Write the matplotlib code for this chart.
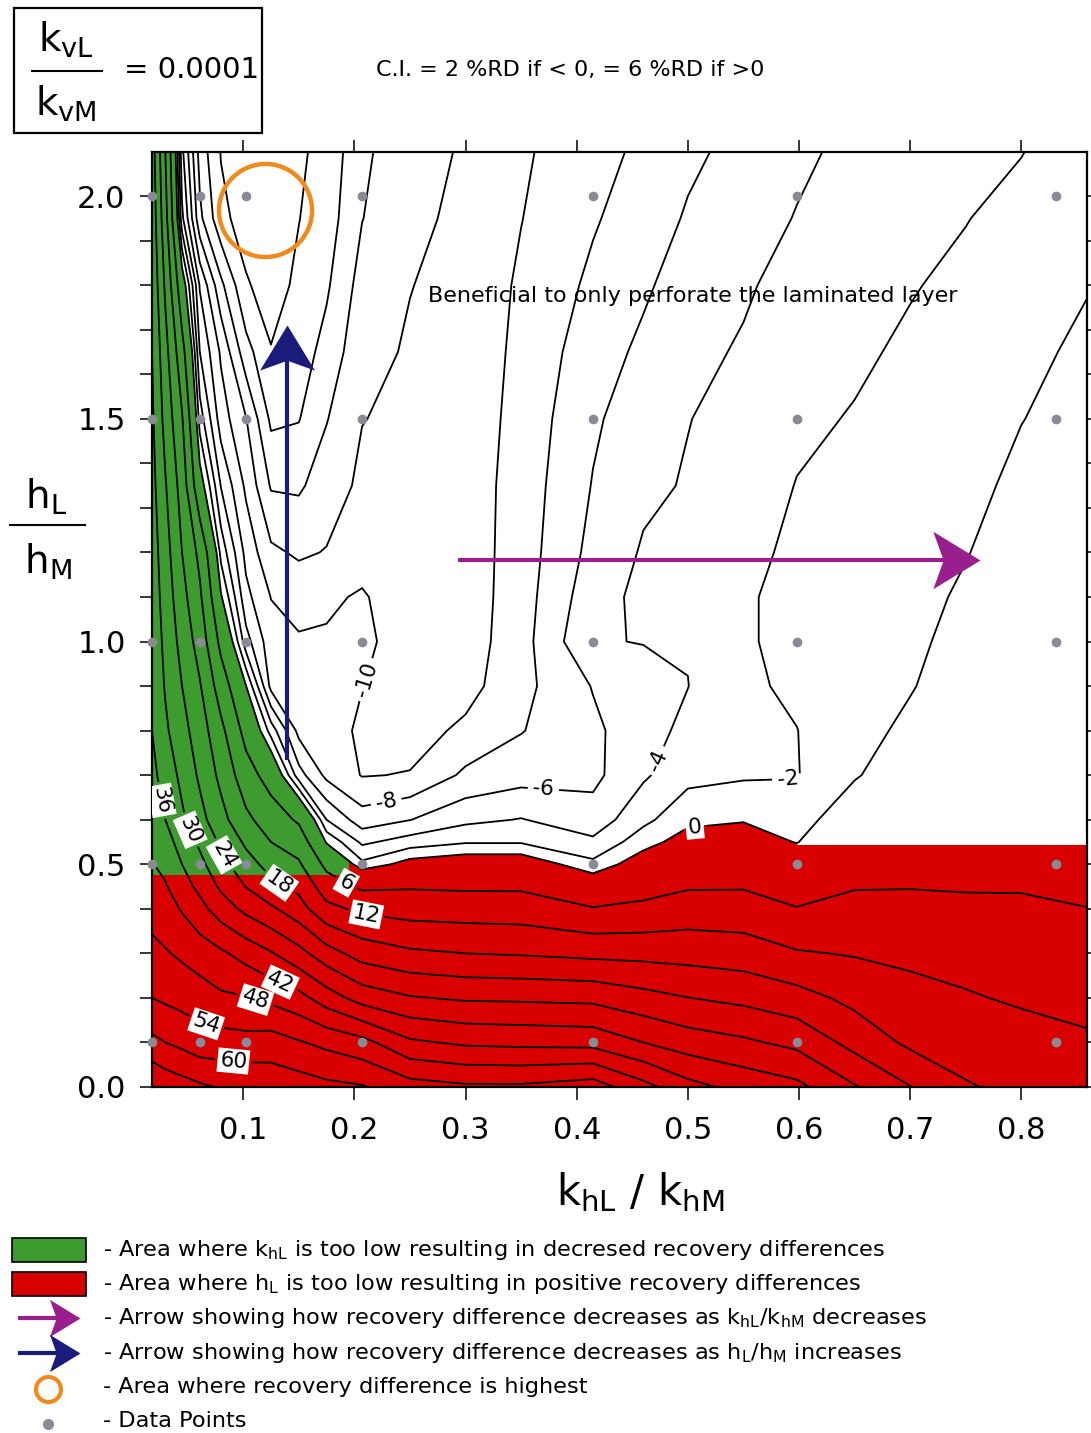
import numpy as np
import matplotlib
matplotlib.use('Agg')
import matplotlib.pyplot as plt
from matplotlib.path import Path
from matplotlib.patches import Rectangle, PathPatch
from matplotlib.lines import Line2D

plt.rcParams['font.family'] = ['DejaVu Sans']

# recovery difference (%RD), one list per khL/khM column,
# values from hL/hM = 0 (bottom) to 2.1 (top)
khl_ratio = [0.018, 0.03, 0.045, 0.061, 0.08, 0.1025, 0.125, 0.15, 0.175, 0.207, 0.25,
             0.3, 0.35, 0.4146, 0.46, 0.5, 0.55, 0.598, 0.65, 0.7, 0.75, 0.8, 0.859]
hl_ratio = [0, 0.1, 0.2, 0.3, 0.4, 0.45, 0.5, 0.55, 0.6, 0.7, 0.8, 0.9, 1.0, 1.1, 1.2,
            1.35, 1.5, 1.65, 1.8, 1.95, 2.1]
rd_columns = [
    [72, 61.5, 54, 49.5, 46, 44.5, 42.3, 40.8, 39.5, 37.6, 36, 35, 34.2, 33.5, 33, 32, 31, 30, 29, 28, 27],
    [70, 60, 53, 48.5, 44.5, 42.5, 40.5, 38.5, 36, 33.5, 31, 29.5, 28.5, 27.5, 26.5, 24.5, 22, 20, 17, 14, 12],
    [68.5, 58.5, 52, 47, 41.5, 38.5, 36, 33.5, 31, 28.5, 26, 24, 22, 20, 18, 15.5, 12.5, 8, 2, -5.5, -7.5],
    [67, 56.5, 51, 45, 38, 34.5, 31.5, 29, 26, 23, 21, 18.5, 15.5, 13, 10.5, 1.5, -3, -6, -8.2, -13.5, -14.8],
    [65.5, 56.5, 49, 43, 33, 29, 26, 23, 20, 16.5, 13.5, 9, 4.5, 0.3, -2.7, -6.1, -9, -10.3, -13.5, -17.5, -18.1],
    [65, 56, 48.3, 39.8, 28.5, 23.8, 20.2, 17, 13.3, 8.5, 4, 0.1, -5.2, -7.4, -8.6, -10.4, -11.9, -15.2, -17.8, -18.8, -19.1],
    [64, 56.7, 46.5, 36.5, 25, 19.5, 16, 12, 9, 3.5, -2.9, -8.6, -9.2, -10.05, -11.6, -14.2, -16.4, -17.9, -18.8, -19.2, -19.3],
    [63, 54.5, 44, 32, 20.5, 16.5, 12.8, 9.2, 5.2, -5.2, -8.6, -9.2, -9.8, -10.7, -12.3, -14.3, -16.1, -17, -17.6, -18.05, -18.3],
    [61.5, 52.5, 39, 26.5, 13.5, 9.0, 4.5, -0.3, -4, -8.5, -9.0, -9.4, -9.8, -10.3, -11.9, -13.0, -14.1, -15.3, -16.3, -17.0, -17.4],
    [60.5, 50, 33.5, 21.5, 10.8, 5.0, -1.5, -4.4, -7.1, -10.1, -10.4, -9.95, -9.5, -9.8, -10.8, -11.6, -12.05, -12.6, -13.2, -14.05, -14.4],
    [56.5, 43, 30.5, 19, 9.5, 5.5, 1, -3.1, -6.05, -9.9, -10.8, -11.0, -11.1, -11.2, -11.3, -11.4, -11.6, -11.8, -12.05, -12.4, -12.7],
    [55, 41, 29.2, 18, 9.2, 5.2, 1.8, -2.2, -4.5, -7.6, -9.6, -10.7, -11.0, -11.1, -11.1, -11.1, -11.2, -11.3, -11.4, -11.6, -11.8],
    [55, 40.5, 29, 17.5, 9, 5.2, 1.8, -2.2, -3.9, -6.8, -8.1, -8.6, -8.8, -8.9, -9.0, -9.1, -9.3, -9.5, -9.7, -10.05, -10.3],
    [57, 40, 28.5, 16.5, 6.3, 2.2, -1.5, -3.6, -5.2, -6.5, -6.4, -5.9, -4.1, -4.8, -5.4, -5.9, -6.3, -6.9, -7.6, -8.2, -8.7],
    [50, 36, 26, 16.2, 7.2, 4, 1.5, -0.9, -2.5, -4.3, -4.8, -4.6, -3.95, -3.5, -3.8, -4.4, -4.9, -5.6, -6.3, -7.0, -7.6],
    [44, 33, 24.1, 15.8, 8.7, 5.5, 3.3, 1.1, -0.6, -2.6, -3.5, -4.03, -3.9, -3.8, -3.8, -3.85, -4.05, -4.5, -5.1, -5.8, -6.4],
    [40, 31, 22.5, 15, 8.5, 5.6, 3.5, 1.2, -0.15, -2.25, -2.7, -2.3, -2.2, -2.2, -2.4, -2.8, -3.4, -3.8, -4.25, -4.9, -5.4],
    [37.5, 28.5, 20.2, 12.5, 6.2, 3.9, 1.8, -0.1, -0.9, -2.1, -2.03, -1.7, -1.5, -1.5, -1.7, -1.95, -2.3, -2.8, -3.3, -3.9, -4.4],
    [30.5, 22, 16.4, 11.6, 7.6, 5.7, 4.0, 2.6, 1.5, -0.2, -0.8, -1.1, -1.3, -1.45, -1.55, -1.7, -1.9, -2.25, -2.7, -3.1, -3.5],
    [24.2, 16.8, 13.8, 10.8, 7.5, 5.8, 4.5, 3.4, 2.5, 1.4, 0.5, -0.15, -0.5, -0.75, -0.95, -1.2, -1.45, -1.75, -2.1, -2.5, -2.9],
    [18.5, 15.5, 12.5, 10, 7.1, 5.6, 4.5, 3.7, 3.1, 2.3, 1.7, 1.2, 0.8, 0.35, -0.1, -0.6, -1.0, -1.3, -1.65, -2.05, -2.5],
    [16.5, 14.2, 11.3, 9, 6.7, 5.7, 5, 4.5, 4, 3.3, 2.8, 2.3, 1.9, 1.5, 1.1, 0.5, -0.05, -0.5, -1, -1.5, -2.05],
    [15, 12.8, 10.3, 8, 6.05, 5.4, 4.9, 4.5, 4.1, 3.6, 3.2, 2.8, 2.5, 2.1, 1.8, 1.3, 0.8, 0.4, -0.1, -0.6, -1.1],
]

plain_levels = [-18, -16, -14, -12, 66]
label_levels = [-10, -8, -6, -4, -2, 0, 6, 12, 18, 24, 30, 36, 42, 48, 54, 60]

# simulation points
pts_khl = [0.018, 0.061, 0.1025, 0.207, 0.4146, 0.598, 0.831]
pts_hl = [0.1, 0.5, 1.0, 1.5, 2.0]

# contour label positions
label_xy = [(0.211, 0.914), (0.23, 0.622), (0.37, 0.667), (0.478, 0.727), (0.59, 0.68),
            (0.506, 0.588), (0.028, 0.644), (0.052, 0.577), (0.082, 0.52), (0.13, 0.449),
            (0.189, 0.442), (0.21, 0.375), (0.133, 0.233), (0.111, 0.195), (0.066, 0.135),
            (0.091, 0.054)]

# annotations
hl_arrow = [(0.1394, 0.734), (0.1394, 1.71)]
khl_arrow = [(0.293, 1.183), (0.7626, 1.183)]
best_area = (0.1199, 1.969)

RED = '#d90000'
GREEN = '#3d9b2f'
NAVY = '#1b1b7c'
PURPLE = '#9a1f8e'
ORANGE = '#f08a1c'
GREY = '#8a8a96'

W, H = 1091, 1433
fig = plt.figure(figsize=(W / 100, H / 100), dpi=100)
ax = fig.add_axes([152 / W, 1 - 1087 / H, 935 / W, 935 / H])

X, Y = np.meshgrid(khl_ratio, hl_ratio)
Z = np.array(rd_columns).T

x0, x1 = 0.018, 0.859
y1 = 2.099
red_clip = PathPatch(Path([(x0, 0), (x0, 0.476), (0.195, 0.476), (0.195, 0.75), (0.598, 0.75),
                           (0.598, 0.543), (x1, 0.543), (x1, 0), (x0, 0)]),
                     transform=ax.transData)
green_clip = PathPatch(Path([(x0, 0.476), (x0, y1), (0.195, y1), (0.195, 0.476), (x0, 0.476)]),
                       transform=ax.transData)

cf_red = ax.contourf(X, Y, Z, levels=[0, 200], colors=[RED])
cf_red.set_clip_path(red_clip)
cf_green = ax.contourf(X, Y, Z, levels=[0, 200], colors=[GREEN])
cf_green.set_clip_path(green_clip)

ax.contour(X, Y, Z, levels=plain_levels, colors='black', linewidths=1.3, linestyles='solid')
cs = ax.contour(X, Y, Z, levels=label_levels, colors='black', linewidths=1.3, linestyles='solid')

ax.set_xlim(x0, x1)
ax.set_ylim(0, y1)

labels = cs.clabel(manual=label_xy, fmt=lambda v: '%d' % v, fontsize=15.5,
                   inline=True, inline_spacing=5)
for t in labels:
    if not t.get_text().startswith('-'):
        t.set_bbox(dict(boxstyle='square,pad=0.1', fc='white', ec='none'))

# data points
px, py = np.meshgrid(pts_khl, pts_hl)
ax.plot(px.ravel(), py.ravel(), 'o', ms=7, color=GREY, mec='none', zorder=6, clip_on=False)

# stealth arrow heads
head_up = Path([(0, 0), (0.61, -1), (0, -0.78), (-0.61, -1), (0, 0)],
               [Path.MOVETO, Path.LINETO, Path.LINETO, Path.LINETO, Path.CLOSEPOLY])
head_right = Path([(0, 0), (-1, 0.61), (-0.78, 0), (-1, -0.61), (0, 0)],
                  [Path.MOVETO, Path.LINETO, Path.LINETO, Path.LINETO, Path.CLOSEPOLY])

ax.plot([hl_arrow[0][0], hl_arrow[1][0]], [hl_arrow[0][1], hl_arrow[1][1] - 0.06],
        color=NAVY, lw=3, solid_capstyle='butt', zorder=7)
ax.plot([hl_arrow[1][0]], [hl_arrow[1][1]], marker=head_up, ms=65, color=NAVY, mec='none', zorder=7)
ax.plot([khl_arrow[0][0], khl_arrow[1][0] - 0.03], [khl_arrow[0][1], khl_arrow[1][1]],
        color=PURPLE, lw=3, solid_capstyle='butt', zorder=7)
ax.plot([khl_arrow[1][0]], [khl_arrow[1][1]], marker=head_right, ms=68, color=PURPLE, mec='none', zorder=7)

ax.plot([best_area[0]], [best_area[1]], 'o', ms=67, mfc='none', mec=ORANGE, mew=3.2, zorder=7)

ax.text(0.5045, 1.776, 'Beneficial to only perforate the laminated layer', ha='center', va='center',
        fontsize=16)

ax.set_xticks([0.1, 0.2, 0.3, 0.4, 0.5, 0.6, 0.7, 0.8])
ax.set_xticklabels(['0.1', '0.2', '0.3', '0.4', '0.5', '0.6', '0.7', '0.8'])
ax.set_yticks([0, 0.5, 1.0, 1.5, 2.0])
ax.set_yticklabels(['0.0', '0.5', '1.0', '1.5', '2.0'])
ax.set_yticks(np.arange(0.1, 2.1, 0.1), minor=True)
ax.tick_params(which='both', direction='out', top=True, right=True, length=9, width=1.1,
               labelsize=22)
ax.tick_params(axis='y', pad=10)
ax.tick_params(axis='x', pad=12)
for s in ax.spines.values():
    s.set_linewidth(1.6)

# axis titles
fig.text(640 / W, 1 - 1192 / H, r'$\mathregular{k_{hL}\ /\ k_{hM}}$', ha='center', va='center',
         fontsize=30)
fig.text(46 / W, 1 - 497 / H, r'$\mathregular{h_L}$', ha='center', va='center', fontsize=28)
fig.add_artist(Line2D([10 / W, 85 / W], [1 - 525 / H] * 2, color='black', lw=1.5))
fig.text(48 / W, 1 - 562 / H, r'$\mathregular{h_M}$', ha='center', va='center', fontsize=28)

# top-left box
fig.add_artist(Rectangle((14 / W, 1 - 133 / H), 248 / W, 125 / H, fill=False, ec='black', lw=1.6))
fig.text(66 / W, 1 - 40 / H, r'$\mathregular{k_{vL}}$', ha='center', va='center', fontsize=28)
fig.add_artist(Line2D([32 / W, 102 / W], [1 - 71 / H] * 2, color='black', lw=1.5))
fig.text(66 / W, 1 - 104 / H, r'$\mathregular{k_{vM}}$', ha='center', va='center', fontsize=28)
fig.text(124 / W, 1 - 70 / H, '= 0.0001', ha='left', va='center', fontsize=21)
fig.text(570 / W, 1 - 70 / H, 'C.I. = 2 %RD if < 0, = 6 %RD if >0', ha='center', va='center',
         fontsize=16)

# legend
legend_text = [
    r'- Area where $\mathregular{k_{hL}}$ is too low resulting in decresed recovery differences',
    r'- Area where $\mathregular{h_L}$ is too low resulting in positive recovery differences',
    r'- Arrow showing how recovery difference decreases as $\mathregular{k_{hL}/k_{hM}}$ decreases',
    r'- Arrow showing how recovery difference decreases as $\mathregular{h_L/h_M}$ increases',
    '- Area where recovery difference is highest',
    '- Data Points',
]
rows = [1250, 1284, 1318, 1353, 1387, 1421]
for txt, r in zip(legend_text, rows):
    fig.text(103 / W, 1 - r / H, txt, ha='left', va='center', fontsize=16.2)

fig.add_artist(Rectangle((12 / W, 1 - 1262 / H), 74 / W, 24 / H, fc=GREEN, ec='black', lw=1.2))
fig.add_artist(Rectangle((12 / W, 1 - 1296 / H), 74 / W, 24 / H, fc=RED, ec='black', lw=1.2))
for r, col in [(1318, PURPLE), (1353, NAVY)]:
    fig.add_artist(Line2D([20 / W, 66 / W], [1 - r / H] * 2, color=col, lw=3))
    fig.add_artist(Line2D([80 / W], [1 - r / H], marker=head_right, ms=44, color=col, mec='none'))
fig.add_artist(Line2D([48 / W], [1 - 1389 / H], marker='o', ms=18, mfc='none', mec=ORANGE, mew=3))
fig.add_artist(Line2D([48 / W], [1 - 1424 / H], marker='o', ms=8, color=GREY, mec='none'))

fig.savefig('out.png', dpi=100)
